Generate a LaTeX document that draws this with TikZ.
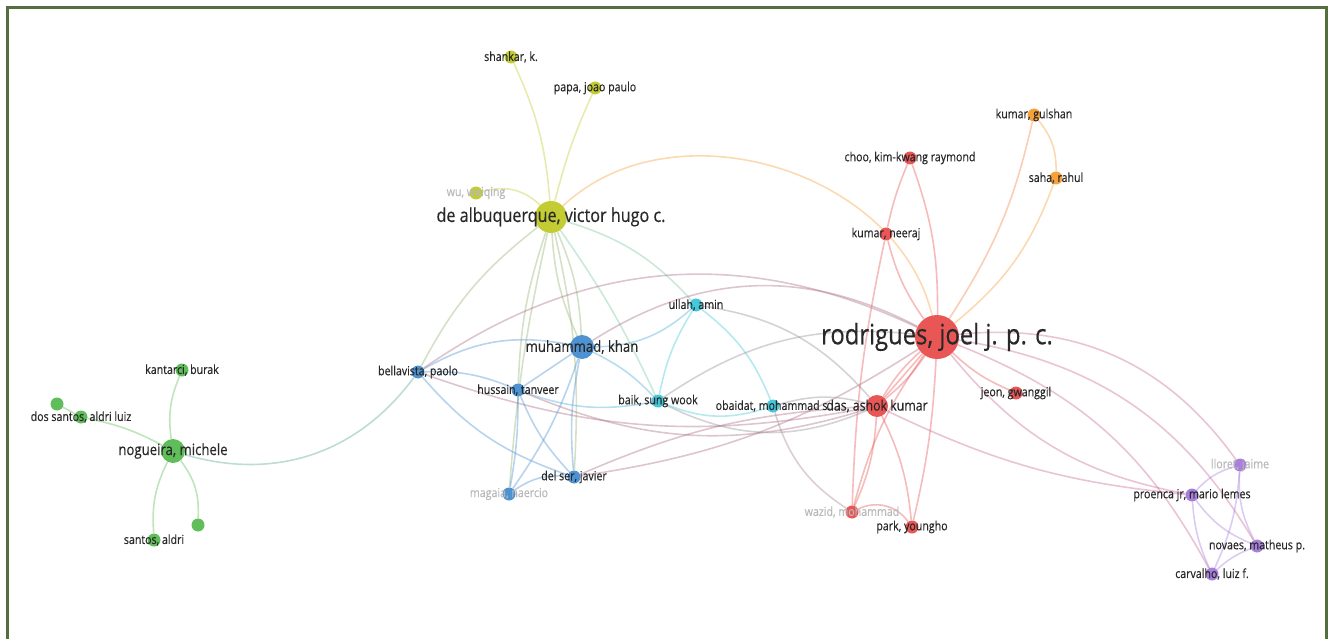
\documentclass[tikz,border=0pt]{standalone}
\usepackage{fontspec}
\newfontfamily\vos[FakeStretch=0.85, FakeBold=0.4]{Open Sans}
\usetikzlibrary{backgrounds}

\definecolor{vred}{RGB}{232,86,86}
\definecolor{vgreen}{RGB}{96,190,90}
\definecolor{vblue}{RGB}{78,146,210}
\definecolor{vyellow}{RGB}{196,204,52}
\definecolor{vcyan}{RGB}{70,200,220}
\definecolor{vorange}{RGB}{246,162,60}
\definecolor{vpurple}{RGB}{168,128,220}
\definecolor{framegreen}{RGB}{84,110,62}
\definecolor{txt}{RGB}{40,40,40}

\tikzset{
  dot/.style={circle, fill=#1, inner sep=0pt, minimum size=13pt},
  lbl/.style={font=\vos\fontsize{12.5}{14}\selectfont, text=txt, inner sep=0pt},
  faint/.style={lbl, text=black!28},
  midlbl/.style={lbl, font=\vos\fontsize{15.5}{18}\selectfont},
  dlbl/.style={lbl, font=\vos\fontsize{14.5}{17}\selectfont},
  biglbl/.style={lbl, font=\vos\fontsize{19}{22}\selectfont},
  hugelbl/.style={lbl, font=\vos\fontsize{28}{31}\selectfont},
  link/.style={draw=#1, line width=1.6pt, opacity=0.4},
  frameline/.style={draw=framegreen, line width=3pt}
}

\begin{document}
\begin{tikzpicture}[x=1pt, y=1pt]
  \useasboundingbox (0,0) rectangle (1330,-639);

  % Frame
  \draw[frameline] (7,-639) -- (7,-8) -- (1326,-8) -- (1326,-639);

  % Green cluster
  \node[dot=vgreen, minimum size=24pt, label={[midlbl]center:nogueira, michele}] (nog) at (173,-451) {};
  \node[dot=vgreen, label={[lbl]center:kantarci, burak}] (kan) at (182,-370) {};
  \node[dot=vgreen] (ds1) at (57,-404) {};
  \node[dot=vgreen, label={[lbl]center:dos santos, aldri luiz}] (ds2) at (81,-417) {};
  \node[dot=vgreen, label={[lbl]center:santos, aldri}] (san) at (154,-540) {};
  \node[dot=vgreen] (gr5) at (198,-525) {};

  % Yellow cluster
  \node[dot=vyellow, minimum size=32pt, label={[biglbl]center:de albuquerque, victor hugo c.}] (alb) at (551,-217) {};
  \node[dot=vyellow, label={[lbl]center:shankar, k.}] (sha) at (511,-57) {};
  \node[dot=vyellow, label={[lbl]center:papa, joao paulo}] (pap) at (595,-88) {};
  \node[dot=vyellow, label={[faint]center:wu, weiqing}] (wu) at (476,-193) {};

  % Blue cluster
  \node[dot=vblue, minimum size=24pt, label={[midlbl]center:muhammad, khan}] (muh) at (582,-347) {};
  \node[dot=vblue, label={[lbl]center:bellavista, paolo}] (bel) at (418,-372) {};
  \node[dot=vblue, label={[lbl]center:hussain, tanveer}] (hus) at (518,-390) {};
  \node[dot=vblue, label={[lbl]center:del ser, javier}] (dse) at (574,-477) {};
  \node[dot=vblue, label={[faint]center:magaia, naercio}] (mag) at (509,-494) {};

  % Cyan cluster
  \node[dot=vcyan, label={[lbl]center:ullah, amin}] (ull) at (696,-305) {};
  \node[dot=vcyan, label={[lbl]center:baik, sung wook}] (bai) at (658,-401) {};
  \node[dot=vcyan, label={[lbl]center:obaidat, mohammad s.}] (oba) at (773,-406) {};

  % Red cluster
  \node[dot=vred, minimum size=44pt, label={[hugelbl]center:rodrigues, joel j. p. c.}] (rod) at (937,-337) {};
  \node[dot=vred, minimum size=22pt, label={[dlbl]center:das, ashok kumar}] (das) at (877,-406) {};
  \node[dot=vred, label={[lbl]center:choo, kim-kwang raymond}] (choo) at (910,-158) {};
  \node[dot=vred, label={[lbl]center:kumar, neeraj}] (nee) at (886,-234) {};
  \node[dot=vred, label={[lbl]center:jeon, gwanggil}] (jeo) at (1016,-393) {};
  \node[dot=vred, label={[faint]center:wazid, mohammad}] (waz) at (852,-512) {};
  \node[dot=vred, label={[lbl]center:park, youngho}] (par) at (912,-527) {};

  % Orange cluster
  \node[dot=vorange, label={[lbl]center:kumar, gulshan}] (gul) at (1034,-115) {};
  \node[dot=vorange, label={[lbl]center:saha, rahul}] (sah) at (1056,-178) {};

  % Purple cluster
  \node[dot=vpurple, label={[lbl]center:proenca jr, mario lemes}] (pro) at (1192,-495) {};
  \node[dot=vpurple, label={[faint]center:lloret, jaime}] (llo) at (1240,-465) {};
  \node[dot=vpurple, label={[lbl]center:novaes, matheus p.}] (nov) at (1257,-546) {};
  \node[dot=vpurple, label={[lbl]center:carvalho, luiz f.}] (car) at (1212,-574) {};

  % Links
  \begin{scope}[on background layer]
    \foreach \a/\b/\c/\bd in {
      nog/kan/vgreen/15, nog/ds2/vgreen/-8, ds2/ds1/vgreen/0, nog/san/vgreen/-15,
      nog/gr5/vgreen/20, nog/bel/vgreen!50!vblue/-35,
      alb/sha/vyellow/-10, alb/pap/vyellow/5, alb/wu/vyellow/-30, alb/rod/vorange/60,
      alb/muh/vyellow!60!vblue/10, alb/muh/vyellow!60!vblue/-10, alb/hus/vyellow!60!vblue/-8,
      alb/dse/vyellow!60!vblue/8, alb/mag/vyellow!60!vblue/-4, alb/bel/vyellow!60!vblue/-12,
      alb/ull/vyellow!40!vcyan/15, alb/bai/vyellow!40!vcyan/5,
      muh/ull/vblue!50!vcyan/-20, muh/bai/vblue!50!vcyan/10, muh/hus/vblue/0, muh/bel/vblue/-20,
      muh/dse/vblue/-8, muh/mag/vblue/8, muh/rod/vblue!40!vred/30,
      bel/hus/vblue/12, bel/dse/vblue/-15, bel/rod/vblue!40!vred/30, bel/das/vblue!40!vred/-15,
      hus/dse/vblue/-10, hus/mag/vblue/5, hus/bai/vblue!50!vcyan/-15, hus/das/vblue!40!vred/-20,
      dse/das/vblue!40!vred/10, dse/rod/vblue!40!vred/-12, mag/dse/vblue/20,
      ull/bai/vcyan/-10, ull/oba/vcyan/15, ull/das/vcyan!50!vred/20, bai/oba/vcyan/-20,
      bai/das/vcyan!50!vred/-25, oba/das/vcyan!50!vred/15, oba/waz/vcyan!40!vred/-20,
      bai/rod/vcyan!50!vred/20,
      rod/das/vred/8, rod/das/vred/0, rod/das/vred/-8, rod/nee/vred/10, nee/choo/vred/5,
      rod/choo/vred/-10, rod/jeo/vred/-10, rod/par/vred/5, rod/waz/vred/-10, das/waz/vred/10,
      das/par/vred/10, waz/par/vred/40, nee/waz/vred/-5,
      rod/gul/vorange!60!vred/-10, rod/sah/vorange/-15, gul/sah/vorange/20,
      rod/pro/vred!50!vpurple/-20, das/pro/vred!50!vpurple/-10, rod/nov/vred!50!vpurple/25,
      rod/car/vred!50!vpurple/20, rod/llo/vred!50!vpurple/30,
      pro/llo/vpurple/15, pro/nov/vpurple/-15, pro/car/vpurple/-10, llo/nov/vpurple/-15,
      llo/car/vpurple/10, nov/car/vpurple/-10}
      \draw[link=\c] (\a) to[bend left=\bd] (\b);
  \end{scope}
\end{tikzpicture}
\end{document}
